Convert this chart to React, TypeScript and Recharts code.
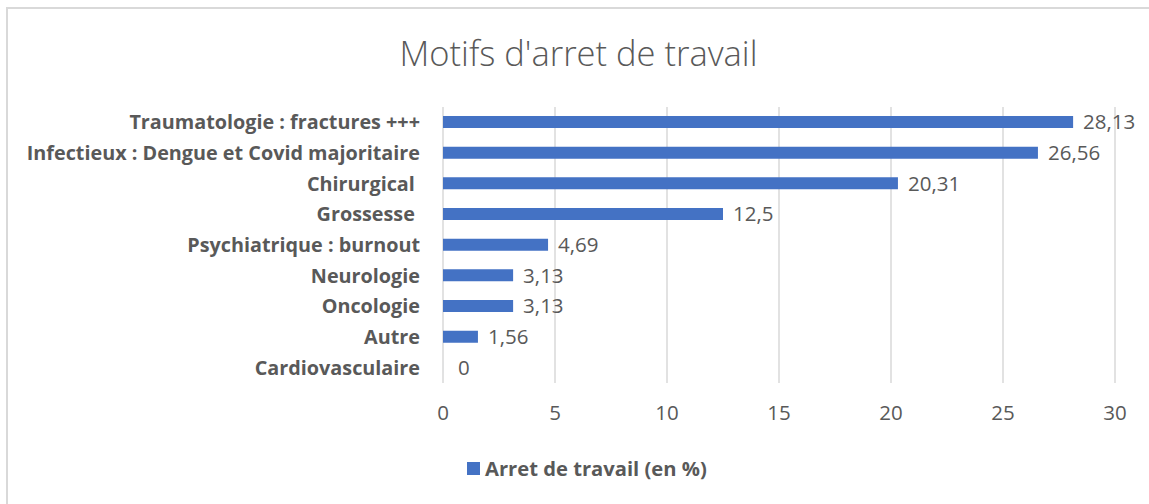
import React from 'react';
import { BarChart, Bar, XAxis, YAxis, CartesianGrid, LabelList } from 'recharts';

const categories = [
  'Traumatologie : fractures +++',
  'Infectieux : Dengue et Covid majoritaire',
  'Chirurgical ',
  'Grossesse ',
  'Psychiatrique : burnout',
  'Neurologie',
  'Oncologie',
  'Autre',
  'Cardiovasculaire',
];
const values = [28.13, 26.56, 20.31, 12.5, 4.69, 3.13, 3.13, 1.56, 0];
const xTicks = [0, 5, 10, 15, 20, 25, 30];
const seriesName = 'Arret de travail (en %)';
const title = "Motifs d'arret de travail";

const data = categories.map((c, i) => ({ name: c, value: values[i] }));

const FONT = '"Open Sans", "Noto Sans", sans-serif';
const GREY = '#595959';

const CatTick = (props: any) => {
  const { x, y, payload } = props;
  return (
    <text x={x} y={y} dy="0.35em" textAnchor="end" fill={GREY} fontFamily={FONT} fontWeight={700} fontSize={19.8} style={{ whiteSpace: 'pre' }}>
      {payload.value}
    </text>
  );
};

const ValueLabel = (props: any) => {
  const { x, y, width, height, value } = props;
  const off = value === 0 ? 15 : 10;
  return (
    <text x={x + width + off} y={y + height / 2} dy="0.35em" textAnchor="start" fill={GREY} fontFamily={FONT} fontSize={20.5}>
      {String(value).replace('.', ',')}
    </text>
  );
};

export default function App() {
  return (
    <div style={{ position: 'absolute', left: 6, top: 7, width: 1143, height: 497, borderTop: '2px solid #d9d9d9', borderLeft: '2px solid #d9d9d9', boxSizing: 'border-box', background: '#fff', overflow: 'hidden' }}>
      <div style={{ position: 'absolute', left: 0, right: 0, top: 19, textAlign: 'center', fontFamily: FONT, fontWeight: 300, fontSize: 34.5, color: GREY, lineHeight: '50px' }}>
        {title}
      </div>
      <div style={{ position: 'absolute', left: -2, top: -2 }}>
        <BarChart width={1143} height={497} data={data} layout="vertical" margin={{ top: 100, right: 34, bottom: 81, left: 0 }}>
          <CartesianGrid horizontal={false} vertical={true} stroke="#d9d9d9" strokeWidth={1.5} />
          <XAxis type="number" domain={[0, 30]} ticks={xTicks} axisLine={false} tickLine={false} tickSize={0} tickMargin={22} height={40}
            tick={{ fill: GREY, fontFamily: FONT, fontSize: 20.5 }} />
          <YAxis type="category" dataKey="name" width={437} axisLine={false} tickLine={false} tickSize={0} tickMargin={23} tick={<CatTick />} interval={0} />
          <Bar dataKey="value" name={seriesName} fill="#4472C4" barSize={12} minPointSize={(v: any) => (v === 0 ? 0.01 : 0)} isAnimationActive={false}>
            <LabelList dataKey="value" content={<ValueLabel />} />
          </Bar>
        </BarChart>
      </div>
      <div style={{ position: 'absolute', left: 459, top: 446, display: 'flex', alignItems: 'center', fontFamily: FONT, fontWeight: 700, fontSize: 20.2, color: GREY, lineHeight: '26px' }}>
        <span style={{ display: 'inline-block', width: 13, height: 13, background: '#4472C4', marginRight: 5 }} />
        <span>{seriesName}</span>
      </div>
    </div>
  );
}
